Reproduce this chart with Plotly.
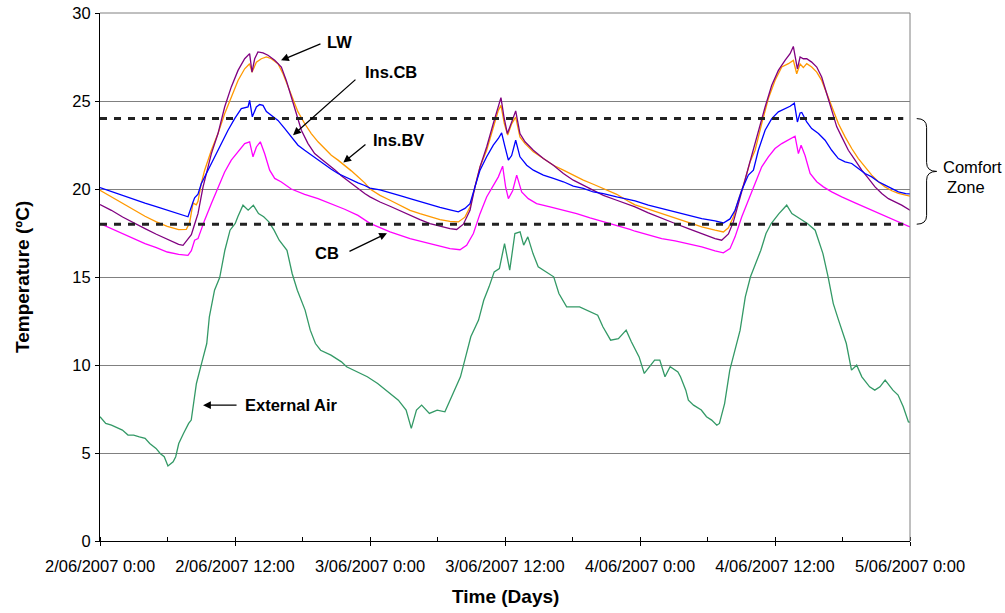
import plotly.graph_objects as go

# ---------------- data (hours since 2/06/2007 0:00, temperature in degC) ----------------
lw_hours = [0, 1.01, 2.01, 2.99, 4.0, 5.01, 5.98, 6.99, 7.38, 7.82, 8.12, 8.41, 8.71, 9.16, 9.9, 10.49, 11.08, 11.67, 12.27, 12.86,
            13.3, 13.51, 13.75, 14.04, 14.49, 14.93, 15.53, 16.12, 16.56, 17.0, 17.45, 17.9, 18.49, 19.08, 19.67, 20.27, 20.86, 21.45, 22.04, 22.93, 23.53,
            24.0, 24.89, 25.78, 26.67, 27.56, 28.44, 29.33, 30.22, 31.11, 31.7, 32.3, 32.89, 33.33, 33.78, 34.37, 34.96, 35.41, 35.64, 35.91, 36.21,
            36.59, 36.95, 37.33, 37.78, 38.52, 39.41, 40.3, 41.19, 42.07, 42.96, 43.85, 44.74, 45.93, 47.11,
            47.56, 48.74, 49.93, 51.12, 52.3, 53.49, 54.67, 55.26, 55.86, 56.3, 56.74, 57.34, 57.93, 58.52, 59.12, 59.71, 60.3, 60.89, 61.34, 61.63,
            61.78, 61.99, 62.23, 62.52, 62.82, 63.26, 63.71, 64.15, 64.6, 65.04, 65.49, 65.93, 66.52, 67.12, 67.71, 68.3, 68.89, 69.49, 70.08, 70.67, 71.26, 72.0]
lw_temp = [19.12, 18.79, 18.41, 18.07, 17.75, 17.43, 17.13, 16.86, 16.8, 17.19, 17.4, 18.0, 18.6, 20.12, 22.01, 23.15, 24.66, 25.8, 26.74, 27.4,
           27.69, 26.64, 27.4, 27.79, 27.73, 27.6, 27.31, 26.93, 26.17, 25.24, 24.28, 23.34, 22.58, 22.01, 21.7, 21.4, 21.1, 20.75, 20.45, 20.03, 19.74,
           19.55, 19.26, 19.02, 18.75, 18.51, 18.26, 18.03, 17.88, 17.75, 17.7, 18.0, 18.79, 20.12, 21.26, 22.39, 23.72, 24.66, 25.19, 24.09, 23.15,
           23.8, 24.44, 23.15, 22.68, 22.2, 21.73, 21.35, 20.88, 20.5, 20.22, 19.93, 19.64, 19.36, 19.07,
           18.98, 18.64, 18.32, 18.04, 17.75, 17.47, 17.18, 17.09, 17.45, 18.13, 19.17, 20.5, 21.83, 23.34, 24.66, 25.89, 26.74, 27.31, 27.69, 28.1,
           27.6, 26.83, 27.5, 27.4, 27.4, 27.21, 26.93, 26.36, 25.41, 24.47, 23.53, 22.96, 22.2, 21.64, 21.07, 20.6, 20.12, 19.74, 19.45, 19.27, 19.08, 18.79]

inscb_hours = [0, 1, 2, 3, 4, 5, 6, 7, 7.82, 8.27, 8.41, 8.71, 9.0, 9.6, 10.19, 10.78, 11.38, 11.97, 12.56, 13.16,
               13.3, 13.54, 13.9, 14.19, 14.49, 14.79, 15.23, 15.82, 16.41, 17.0, 17.6, 18.19, 18.78, 19.38, 19.97, 20.56, 21.16, 21.75, 22.34, 22.93, 23.53,
               24.0, 24.89, 25.78, 26.67, 27.56, 28.44, 29.33, 30.22, 31.11, 31.85, 32.44, 32.89, 33.33, 33.78, 34.37, 34.96, 35.41, 35.7, 36.0, 36.3,
               36.59, 36.95, 37.33, 37.93, 38.52, 39.41, 40.3, 41.19, 42.07, 42.96, 43.85, 44.74, 45.93, 47.11,
               47.56, 48.74, 49.93, 51.12, 52.3, 53.49, 54.67, 55.41, 56.0, 56.45, 57.04, 57.63, 58.08, 58.52, 59.12, 59.71, 60.3, 60.89, 61.34, 61.72,
               61.99, 62.23, 62.38, 62.82, 63.26, 63.86, 64.45, 65.04, 65.63, 66.23, 66.82, 67.41, 68.0, 68.6, 69.19, 69.78, 70.38, 70.97, 71.62, 72.0]
inscb_temp = [20.08, 19.85, 19.62, 19.4, 19.2, 19.0, 18.8, 18.6, 18.42, 19.26, 19.5, 19.7, 20.3, 21.07, 21.83, 22.58, 23.34, 24.0, 24.57, 24.66,
              25.04, 24.1, 24.66, 24.8, 24.75, 24.4, 24.2, 23.9, 23.44, 22.96, 22.49, 22.2, 21.92, 21.64, 21.35, 21.12, 20.88, 20.69, 20.5, 20.35, 20.2,
              20.05, 19.95, 19.8, 19.62, 19.45, 19.28, 19.12, 18.95, 18.82, 18.7, 18.9, 19.17, 20.12, 21.07, 21.83, 22.49, 22.87, 23.19, 22.39, 21.64,
              21.9, 22.77, 21.83, 21.35, 21.07, 20.79, 20.6, 20.41, 20.16, 20.03, 19.83, 19.74, 19.55, 19.36,
              19.33, 19.08, 18.89, 18.7, 18.51, 18.32, 18.19, 18.07, 18.3, 18.79, 19.93, 20.79, 21.07, 22.2, 23.34, 24.0, 24.38, 24.57, 24.7, 24.88,
              23.81, 24.32, 24.35, 23.81, 23.43, 23.15, 22.77, 22.2, 21.73, 21.54, 21.45, 21.16, 20.88, 20.69, 20.41, 20.22, 20.03, 19.84, 19.74, 19.72]

insbv_hours = [0, 1.01, 2.01, 2.99, 4.0, 5.01, 5.98, 6.99, 7.67, 7.97, 8.27, 8.56, 8.71, 9.0, 9.3, 9.9, 10.49, 11.08, 11.67, 12.27,
               12.86, 13.3, 13.51, 13.9, 14.34, 14.79, 15.23, 15.82, 16.27, 16.71, 17.16, 17.6, 18.19, 18.78, 19.38, 19.97, 20.56, 21.16, 21.75, 22.34, 22.93, 23.53,
               24.0, 24.89, 25.78, 26.67, 27.56, 28.44, 29.33, 30.22, 31.11, 31.85, 32.44, 32.89, 33.33, 33.78, 34.37, 34.96, 35.41, 35.64, 35.94, 36.24,
               36.59, 36.95, 37.33, 37.78, 38.52, 39.41, 40.3, 41.19, 42.07, 42.96, 43.85, 44.74, 45.93, 47.11,
               47.56, 48.74, 49.93, 51.12, 52.3, 53.49, 54.67, 55.41, 55.86, 56.3, 56.74, 57.34, 57.78, 58.23, 58.82, 59.41, 60.0, 60.6, 61.19, 61.63,
               61.93, 62.23, 62.52, 62.82, 63.26, 63.71, 64.15, 64.6, 65.04, 65.63, 66.23, 66.82, 67.41, 68.0, 68.6, 69.19, 69.78, 70.38, 70.97, 71.62, 72.0]
insbv_temp = [19.93, 19.55, 19.17, 18.79, 18.45, 18.13, 17.88, 17.69, 17.7, 18.1, 19.2, 19.1, 19.3, 20.3, 21.07, 22.2, 23.15, 24.28, 25.24, 26.17,
              26.83, 27.12, 26.64, 27.2, 27.4, 27.5, 27.4, 27.12, 26.55, 25.8, 25.04, 24.38, 23.72, 23.15, 22.68, 22.3, 21.92, 21.64, 21.35, 21.03, 20.7, 20.35,
              20.0, 19.64, 19.36, 19.07, 18.79, 18.6, 18.41, 18.26, 18.16, 18.13, 18.4, 18.98, 20.12, 21.26, 22.2, 23.53, 24.47, 24.75, 23.72, 23.06,
              23.7, 24.09, 22.96, 22.58, 22.11, 21.73, 21.35, 21.07, 20.79, 20.5, 20.27, 20.03, 19.7, 19.25,
              19.1, 18.85, 18.6, 18.32, 18.07, 17.85, 17.66, 17.56, 17.8, 18.41, 19.36, 20.5, 21.54, 22.2, 23.72, 25.14, 26.17, 26.93, 27.12, 27.31,
              26.55, 27.1, 26.9, 27.12, 26.93, 26.64, 26.17, 25.41, 24.66, 23.72, 22.96, 22.3, 21.73, 21.26, 20.79, 20.41, 20.12, 19.9, 19.75, 19.65, 19.6]

cb_hours = [0, 1.01, 2.01, 2.99, 4.0, 5.01, 5.98, 6.99, 7.82, 8.12, 8.41, 8.71, 9.3, 9.9, 10.49, 11.08, 11.67, 12.27, 12.86, 13.3,
            13.6, 13.9, 14.25, 14.64, 15.08, 15.53, 16.12, 17.0, 18.19, 19.38, 20.56, 21.75, 22.93,
            24.0, 25.78, 27.56, 29.33, 31.11, 32.0, 32.59, 33.19, 33.78, 34.37, 34.96, 35.41, 35.79, 36.06, 36.3, 36.68, 37.04, 37.48, 38.07, 38.81,
            40.0, 41.19, 42.37, 43.56, 44.74, 45.93, 47.11,
            47.56, 48.74, 49.93, 51.12, 52.3, 53.49, 54.67, 55.41, 56.0, 56.45, 57.04, 57.63, 58.23, 58.82, 59.41, 60.0, 60.6, 61.19, 61.78, 62.08,
            62.32, 62.67, 63.12, 63.71, 64.3, 65.04, 65.93, 67.12, 68.3, 69.49, 70.67, 72.0]
cb_temp = [18.04, 17.75, 17.47, 17.18, 16.9, 16.67, 16.42, 16.29, 16.23, 16.5, 17.09, 17.18, 18.23, 19.17, 20.12, 20.97, 21.64, 22.11, 22.58, 22.68,
           21.83, 22.39, 22.68, 22.0, 21.07, 20.6, 20.4, 20.0, 19.7, 19.45, 19.17, 18.85, 18.5,
           18.05, 17.57, 17.18, 16.9, 16.61, 16.55, 16.8, 17.47, 18.6, 19.55, 20.22, 20.69, 21.3, 20.1, 19.45, 19.9, 20.79, 19.83, 19.45, 19.17,
           18.98, 18.79, 18.6, 18.36, 18.15, 17.95, 17.7,
           17.6, 17.37, 17.18, 17.05, 16.9, 16.71, 16.48, 16.37, 16.61, 17.28, 18.41, 19.36, 20.31, 21.26, 21.83, 22.3, 22.58, 22.77, 23.0, 22.01,
           22.49, 21.9, 20.88, 20.41, 20.12, 19.84, 19.55, 19.21, 18.89, 18.57, 18.23, 17.85]

ext_hours = [0.0, 0.51, 1.02, 1.66, 1.99, 2.49, 2.99, 3.5, 4.01, 4.42, 4.98, 5.35, 5.71, 6.04, 6.5, 6.73, 7.0, 7.42, 7.88, 8.11,
             8.57, 9.03, 9.49, 9.72, 10.18, 10.64, 11.1, 11.56, 12.02, 12.25, 12.71, 13.17, 13.63, 14.09, 14.55, 15.01, 15.47, 15.93, 16.62, 17.08,
             17.54, 18.23, 18.69, 19.15, 19.61, 20.53, 21.46, 21.92, 22.84, 23.76, 24.68, 25.6, 26.52, 27.21, 27.67, 28.13, 28.59, 29.28, 29.97, 30.66,
             31.35, 32.04, 32.5, 32.96, 33.65, 34.11, 34.58, 35.04, 35.5, 35.96, 36.42, 36.88, 37.34, 37.66, 38.03, 38.49, 38.95, 39.87, 40.33, 40.79,
             41.48, 42.63, 43.55, 44.24, 44.7, 45.39, 46.08, 46.77, 47.23, 47.92, 48.38, 49.3, 49.76, 50.22, 50.68, 51.37, 51.6, 52.07, 52.3, 52.76,
             53.45, 53.91, 54.37, 54.83, 55.06, 55.52, 55.98, 56.44, 56.9, 57.36, 57.82, 58.28, 58.74, 59.2, 59.66, 60.35, 61.04, 61.5, 62.19, 62.88,
             63.57, 64.26, 64.72, 65.18, 65.65, 66.34, 66.8, 67.26, 67.72, 68.41, 68.87, 69.33, 69.79, 70.48, 70.94, 71.4, 71.86, 72.0]
ext_temp = [7.06, 6.68, 6.58, 6.4, 6.30, 6.02, 6.02, 5.92, 5.83, 5.54, 5.26, 4.97, 4.79, 4.26, 4.5, 4.79, 5.54, 6.11, 6.68, 6.87,
            8.95, 10.09, 11.22, 12.74, 14.25, 14.97, 16.52, 17.66, 18.04, 18.42, 19.08, 18.8, 19.08, 18.6, 18.42, 18.13, 17.66, 17.09, 16.52, 15.2,
            14.25, 13.12, 11.98, 11.22, 10.84, 10.56, 10.18, 9.9, 9.61, 9.33, 8.95, 8.48, 8.0, 7.44, 6.4, 7.44, 7.72, 7.25, 7.44, 7.34,
            8.38, 9.33, 10.46, 11.6, 12.55, 13.68, 14.44, 15.29, 15.48, 16.9, 15.39, 17.47, 17.56, 16.81, 17.28, 16.33, 15.58, 15.2, 15.01, 14.06,
            13.3, 13.3, 13.02, 12.83, 12.17, 11.41, 11.5, 11.98, 11.32, 10.46, 9.52, 10.28, 10.28, 9.33, 9.9, 9.61, 9.33, 8.57, 8.0, 7.72,
            7.44, 7.06, 6.87, 6.58, 6.68, 7.81, 9.71, 10.84, 11.98, 13.87, 15.01, 15.77, 16.52, 17.47, 18.04, 18.6, 19.08, 18.6, 18.32, 18.04,
            17.66, 16.33, 15.01, 13.49, 12.55, 11.22, 9.71, 9.99, 9.33, 8.76, 8.57, 8.76, 9.14, 8.57, 8.29, 7.63, 6.77, 6.75]

comfort_hours = [0, 71.4]
comfort_low = 18
comfort_high = 24

tick_hours = [0, 12, 24, 36, 48, 60, 72]
tick_labels = ["2/06/2007 0:00", "2/06/2007 12:00", "3/06/2007 0:00", "3/06/2007 12:00",
               "4/06/2007 0:00", "4/06/2007 12:00", "5/06/2007 0:00"]

for h, v in [(lw_hours, lw_temp), (inscb_hours, inscb_temp), (insbv_hours, insbv_temp),
             (cb_hours, cb_temp), (ext_hours, ext_temp)]:
    assert len(h) == len(v), (len(h), len(v))

# ---------------- figure ----------------
FONT = "Liberation Sans, Arial, sans-serif"
fig = go.Figure()

series = [
    ("External Air", ext_hours, ext_temp, "#339966"),
    ("CB", cb_hours, cb_temp, "#FF00FF"),
    ("Ins.BV", insbv_hours, insbv_temp, "#FF9900"),
    ("LW", lw_hours, lw_temp, "#800080"),
    ("Ins.CB", inscb_hours, inscb_temp, "#0000FF"),
]
for name, h, v, c in series:
    fig.add_trace(go.Scatter(x=h, y=v, mode="lines", name=name,
                             line=dict(color=c, width=1.3)))

for lvl in (comfort_low, comfort_high):
    fig.add_trace(go.Scatter(x=comfort_hours, y=[lvl, lvl], mode="lines",
                             line=dict(color="#222222", width=3, dash="7px,7px"),
                             showlegend=False))

fig.update_layout(
    width=1005, height=613,
    margin=dict(l=100, r=95, t=13, b=72, autoexpand=False),
    paper_bgcolor="white", plot_bgcolor="white",
    showlegend=False,
    font=dict(family=FONT, size=16.5, color="black"),
)

fig.update_xaxes(range=[0, 72], tickvals=tick_hours, ticktext=tick_labels, automargin=False,
                 showgrid=False, zeroline=False, showline=True, linecolor="black", linewidth=1,
                 ticks="outside", ticklen=4, tickcolor="black", tickwidth=1,
                 ticklabeloverflow="allow", ticklabelstandoff=6,
                 tickfont=dict(family=FONT, size=16.5, color="black"),
                 minor=dict(dtick=6, tick0=0, ticks="inside", ticklen=4, tickcolor="black", showgrid=False))
fig.update_yaxes(range=[0, 30], dtick=5, tick0=0, automargin=False,
                 showgrid=True, gridcolor="#808080", gridwidth=1,
                 zeroline=False, showline=True, linecolor="black", linewidth=1,
                 ticks="outside", ticklen=4, tickcolor="black", tickwidth=1,
                 ticklabeloverflow="allow", ticklabelstandoff=1,
                 tickfont=dict(family=FONT, size=16.5, color="black"))

# top and right border of the plot area (grey, like the gridlines)
fig.add_shape(type="line", xref="paper", yref="paper", x0=1, x1=1, y0=0, y1=1,
              line=dict(color="#808080", width=1))
fig.add_shape(type="line", xref="paper", yref="paper", x0=0, x1=1, y0=1, y1=1,
              line=dict(color="#808080", width=1))

# comfort-zone brace (paper x, paper y = temperature / 30)
def py(v):
    return v / 30.0
x0, x1, x2 = 1.0083, 1.0205, 1.0329
mid = (comfort_low + comfort_high) / 2
path = (f"M {x0},{py(comfort_high)} Q {x1},{py(comfort_high)} {x1},{py(comfort_high - 0.5)} "
        f"L {x1},{py(mid + 0.5)} Q {x1},{py(mid)} {x2},{py(mid)} "
        f"Q {x1},{py(mid)} {x1},{py(mid - 0.5)} "
        f"L {x1},{py(comfort_low + 0.5)} Q {x1},{py(comfort_low)} {x0},{py(comfort_low)}")
fig.add_shape(type="path", xref="paper", yref="paper", path=path,
              line=dict(color="black", width=1))

fig.add_annotation(xref="paper", yref="y", x=1.038, y=21.24, text="Comfort",
                   showarrow=False, xanchor="left", yanchor="middle",
                   font=dict(family=FONT, size=16.5, color="black"))
fig.add_annotation(xref="paper", yref="y", x=1.043, y=20.1, text="Zone",
                   showarrow=False, xanchor="left", yanchor="middle",
                   font=dict(family=FONT, size=16.5, color="black"))

# series labels with arrows
labels = [
    # text, text_x, text_y, anchor, tail_x, tail_y, head_x, head_y
    ("LW", 20.0, 28.34, "left", 19.73, 28.28, 16.09, 27.31),
    ("Ins.CB", 23.38, 26.63, "left", 22.84, 26.29, 17.16, 23.06),
    ("Ins.BV", 24.06, 22.77, "left", 23.73, 22.6, 21.63, 21.5),
    ("CB", 21.42, 16.35, "right", 22.04, 16.41, 25.51, 17.49),
    ("External Air", 12.71, 7.72, "left", 12.27, 7.72, 9.16, 7.72),
]
for text, tx, ty, anc, ax, ay, hx, hy in labels:
    fig.add_annotation(x=tx, y=ty, text=f"<b>{text}</b>", showarrow=False,
                       xanchor=anc, yanchor="middle",
                       font=dict(family=FONT, size=16.5, color="black"))
    fig.add_annotation(x=hx, y=hy, ax=ax, ay=ay, axref="x", ayref="y", text="",
                       showarrow=True, arrowhead=2, arrowsize=1.2, arrowwidth=1.3,
                       arrowcolor="black")

# axis titles
fig.add_annotation(xref="paper", yref="paper", x=0.501, y=-0.106, text="<b>Time (Days)</b>",
                   showarrow=False, xanchor="center", yanchor="middle",
                   font=dict(family=FONT, size=19, color="black"))
fig.add_annotation(xref="paper", yref="paper", x=-0.0963, y=0.5, text="<b>Temperature (ºC)</b>",
                   showarrow=False, xanchor="center", yanchor="middle", textangle=-90,
                   font=dict(family=FONT, size=19, color="black"))

# remove the browser's default 8px body margin so the figure sits at the page origin
fig.write_html("out.html", config={"displayModeBar": False},
               post_script="document.body.style.margin='0';document.body.style.overflow='hidden';")
